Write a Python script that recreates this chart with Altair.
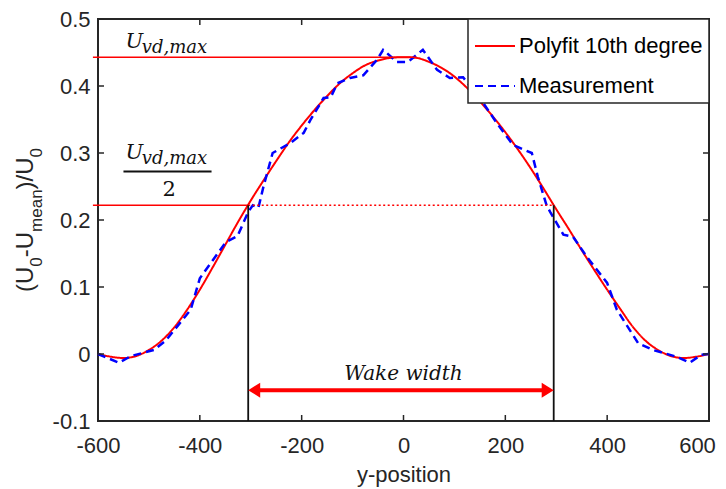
import altair as alt
import pandas as pd

# ---------------- data ----------------
series_names = ["Polyfit 10th degree", "Measurement"]

fit_x = [-600, -575, -550, -525, -500, -475, -450, -425, -400, -375, -350, -325,
         -300, -275, -250, -225, -200, -175, -150, -125, -100, -75, -50, -25,
         0, 25, 50, 75, 100, 125, 150, 175, 200, 225, 250, 275, 300,
         325, 350, 375, 400, 425, 450, 475, 500, 525, 550, 575, 600]
fit_y = [0.000, -0.004, -0.006, -0.003, 0.006, 0.020, 0.040, 0.066, 0.096, 0.129, 0.163, 0.197,
         0.229, 0.259, 0.288, 0.316, 0.341, 0.364, 0.385, 0.404, 0.419, 0.431, 0.438, 0.442,
         0.443, 0.442, 0.436, 0.427, 0.414, 0.397, 0.377, 0.355, 0.331, 0.305, 0.277, 0.247, 0.216,
         0.186, 0.155, 0.125, 0.096, 0.068, 0.041, 0.020, 0.006, -0.003, -0.006, -0.004, 0.000]

meas_x = [-600, -559, -535, -490, -467, -418, -400, -349, -326,
          -305, -296, -285, -275, -257, -222, -196, -183, -157, -143,
          -130, -105, -79, -52, -40, -13, 9, 38, 66, 91,
          117, 150, 183, 215, 252, 264, 281, 288, 314, 333,
          360, 400, 419, 461, 490, 536, 562, 585, 600]
meas_y = [0.000, -0.013, -0.003, 0.006, 0.020, 0.066, 0.113, 0.167, 0.176,
          0.212, 0.222, 0.218, 0.250, 0.300, 0.315, 0.330, 0.349, 0.382, 0.383,
          0.404, 0.412, 0.416, 0.439, 0.454, 0.436, 0.436, 0.454, 0.424, 0.412,
          0.413, 0.382, 0.345, 0.312, 0.300, 0.264, 0.222, 0.212, 0.178, 0.175,
          0.145, 0.106, 0.066, 0.016, 0.006, -0.004, -0.013, -0.001, 0.000]

x_ticks = [-600, -400, -200, 0, 200, 400, 600]
y_ticks = [-0.1, 0, 0.1, 0.2, 0.3, 0.4, 0.5]

u_max = 0.443
u_half = 0.222
wake_left = -305
wake_right = 295
arrow_y = -0.054

# ---------------- styling ----------------
W, H = 611, 402
FONT = "Liberation Sans"
SERIF = "DejaVu Serif"
DARK = "#262626"
RED = "#ff0000"
BLUE = "#0000ff"

xs = alt.Scale(domain=[-600, 600], nice=False, zero=False)
ys = alt.Scale(domain=[-0.1, 0.5], nice=False, zero=False)

x_axis = alt.Axis(values=x_ticks, ticks=False, tickSize=0, domain=False, grid=False,
                  labelFont=FONT, labelFontSize=22, labelColor=DARK, labelPadding=14,
                  labelFlush=False, labelOverlap=False,
                  labelOffset={"condition": {"test": "datum.value == 600", "value": -12}, "value": 0},
                  labelExpr="(datum.value < 0 ? '-' : '') + abs(datum.value)",
                  title="y-position", titleFont=FONT, titleFontSize=22,
                  titleFontWeight="normal", titleColor=DARK, titlePadding=8)
y_axis = alt.Axis(values=y_ticks, ticks=False, tickSize=0, domain=False, grid=False,
                  labelFont=FONT, labelFontSize=22, labelColor=DARK, labelPadding=8,
                  labelFlush=False, labelOverlap=False,
                  labelExpr="datum.value == 0 ? '0' : (datum.value < 0 ? '-' : '') + format(abs(datum.value), '.1f')",
                  title="")

X = alt.X("x:Q", scale=xs, axis=x_axis)
Y = alt.Y("y:Q", scale=ys, axis=y_axis)

legend = alt.Legend(title=None, orient="top-right", offset=0, padding=6, rowPadding=8,
                    strokeColor=DARK, fillColor="white", labelFont=FONT, labelFontSize=22,
                    labelColor="#000000", symbolType="stroke", symbolSize=1600,
                    symbolStrokeWidth=2, labelOffset=3, labelLimit=0)
color = alt.Color("series:N", scale=alt.Scale(domain=series_names, range=[RED, BLUE]), legend=legend)
dash = alt.StrokeDash("series:N", scale=alt.Scale(domain=series_names, range=[[1, 0], [8, 5]]),
                      legend=legend)

fit_df = pd.DataFrame({"x": fit_x, "y": fit_y, "series": series_names[0]})
meas_df = pd.DataFrame({"x": meas_x, "y": meas_y, "series": series_names[1]})

fit_line = alt.Chart(fit_df).mark_line(strokeWidth=2, interpolate="monotone").encode(
    x=X, y=Y, color=color, strokeDash=dash)
meas_line = alt.Chart(meas_df).mark_line(strokeWidth=2.5).encode(
    x=X, y=Y, color=color, strokeDash=dash)

# horizontal reference lines (solid, start just outside the left axis)
hl_df = pd.DataFrame({"x": [-610, -610], "x2": [25, wake_left], "y": [u_max, u_half]})
hlines = alt.Chart(hl_df).mark_rule(color=RED, strokeWidth=1.5).encode(x=X, x2="x2", y=Y)

dot_df = pd.DataFrame({"x": [wake_left], "x2": [wake_right], "y": [u_half]})
dotline = alt.Chart(dot_df).mark_rule(color=RED, strokeWidth=1.5, strokeDash=[2, 2.5]).encode(
    x=X, x2="x2", y=Y)

vl_df = pd.DataFrame({"x": [wake_left, wake_right], "y": [-0.1, -0.1], "y2": [u_half, u_half]})
vlines = alt.Chart(vl_df).mark_rule(color="#111111", strokeWidth=1.8).encode(x=X, y=Y, y2="y2")

# double arrow
shaft_df = pd.DataFrame({"x": [wake_left + 10], "x2": [wake_right - 10], "y": [arrow_y]})
shaft = alt.Chart(shaft_df).mark_rule(color=RED, strokeWidth=4).encode(x=X, x2="x2", y=Y)
lh_df = pd.DataFrame({"x": [wake_left], "y": [arrow_y]})
rh_df = pd.DataFrame({"x": [wake_right], "y": [arrow_y]})
lhead = alt.Chart(lh_df).mark_point(shape="M 0 0 L 1.6 -1 L 1.6 1 Z", size=225, filled=True,
                                    color=RED, opacity=1, strokeWidth=0).encode(x=X, y=Y)
rhead = alt.Chart(rh_df).mark_point(shape="M 0 0 L -1.6 -1 L -1.6 1 Z", size=225, filled=True,
                                    color=RED, opacity=1, strokeWidth=0).encode(x=X, y=Y)

layers = [fit_line, meas_line, hlines, dotline, vlines, shaft, lhead, rhead]


def data_text(label, x, y, size, italic=True, align="left"):
    df = pd.DataFrame({"x": [x], "y": [y], "label": [label]})
    props = dict(font=SERIF, fontSize=size, align=align, baseline="alphabetic", color="#111111")
    if italic:
        props["fontStyle"] = "italic"
    return alt.Chart(df).mark_text(**props).encode(x=X, y=Y, text="label:N")


layers.append(data_text("Wake width", 0, -0.039, 20, align="center"))
layers.append(data_text("U", -546, 0.4567, 21))
layers.append(data_text("vd,max", -514, 0.4493, 18))
layers.append(data_text("U", -546, 0.291, 21))
layers.append(data_text("vd,max", -514, 0.2836, 18))
layers.append(data_text("2", -460, 0.2358, 21, italic=False, align="center"))
bar_df = pd.DataFrame({"x": [-550], "x2": [-377], "y": [0.2724]})
layers.append(alt.Chart(bar_df).mark_rule(color="#111111", strokeWidth=2.2).encode(x=X, x2="x2", y=Y))

# inward ticks on all four sides
xt_df = pd.DataFrame({"x": x_ticks})
yt_df = pd.DataFrame({"y": y_ticks})
TL = 6
layers.append(alt.Chart(xt_df).mark_rule(color=DARK, strokeWidth=1.5).encode(
    x=X, y=alt.value(H), y2=alt.value(H - TL)))
layers.append(alt.Chart(xt_df).mark_rule(color=DARK, strokeWidth=1.5).encode(
    x=X, y=alt.value(0), y2=alt.value(TL)))
layers.append(alt.Chart(yt_df).mark_rule(color=DARK, strokeWidth=1.5).encode(
    y=Y, x=alt.value(0), x2=alt.value(TL)))
layers.append(alt.Chart(yt_df).mark_rule(color=DARK, strokeWidth=1.5).encode(
    y=Y, x=alt.value(W), x2=alt.value(W - TL)))

# y-axis title with subscripts, built from rotated pieces
adv = {"(": 0.333, "U": 0.722, "0": 0.556, "-": 0.333, "m": 0.833, "e": 0.556,
       "a": 0.556, "n": 0.556, ")": 0.333, "/": 0.278}
pieces = [("(U", False), ("0", True), ("-U", False), ("mean", True), (")/U", False), ("0", True)]
MAIN, SUB = 24, 17
widths = [sum(adv[c] for c in t) * (SUB if s else MAIN) for t, s in pieces]
pos = H / 2 + sum(widths) / 2
for (t, s), w in zip(pieces, widths):
    df = pd.DataFrame({"label": [t]})
    layers.append(alt.Chart(df).mark_text(
        font=FONT, fontSize=SUB if s else MAIN, angle=270, align="left",
        baseline="alphabetic", color=DARK).encode(
        x=alt.value(-56 if s else -65), y=alt.value(pos), text="label:N"))
    pos -= w

chart = alt.layer(*layers).properties(
    width=W, height=H,
    padding={"left": 98, "top": 19, "right": 17, "bottom": 68},
    autosize=alt.AutoSizeParams(type="none"),
    background="white",
).configure(font=FONT).configure_view(stroke=DARK, strokeWidth=2).configure_legend(strokeWidth=1.5)

chart.save("out.html", embed_options={"renderer": "svg", "actions": False})
